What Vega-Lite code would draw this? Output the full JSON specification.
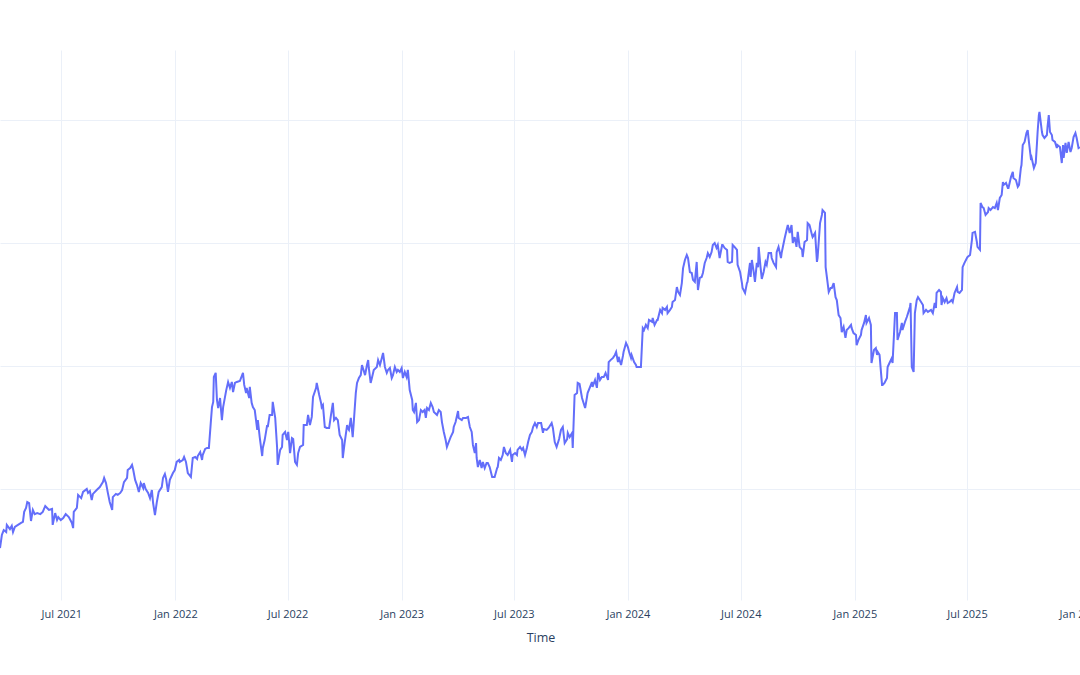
{
"$schema": "https://vega.github.io/schema/vega-lite/v6.json",
"width": 1081, "height": 550,
"autosize": {"type": "none"},
"padding": {"left": 0, "top": 50, "right": 0, "bottom": 75},
"background": "white",
"config": {"view": {"stroke": null}, "font": "Open Sans"},
"data": {"values": [
{"d":"2021-03-24","v":76.0},{"d":"2021-03-27","v":81.3},{"d":"2021-03-30","v":83.3},{"d":"2021-04-03","v":82.5},{"d":"2021-04-04","v":85.4},{"d":"2021-04-09","v":83.7},{"d":"2021-04-12","v":85.0},{"d":"2021-04-14","v":82.5},{"d":"2021-04-17","v":84.6},{"d":"2021-04-22","v":85.4},{"d":"2021-04-27","v":86.2},{"d":"2021-04-30","v":86.6},{"d":"2021-05-02","v":90.7},{"d":"2021-05-05","v":92.3},{"d":"2021-05-07","v":94.7},{"d":"2021-05-10","v":94.3},{"d":"2021-05-13","v":87.0},{"d":"2021-05-16","v":91.5},{"d":"2021-05-19","v":89.8},{"d":"2021-05-23","v":90.2},{"d":"2021-05-28","v":89.8},{"d":"2021-06-01","v":90.7},{"d":"2021-06-05","v":93.1},{"d":"2021-06-08","v":92.3},{"d":"2021-06-11","v":91.5},{"d":"2021-06-16","v":91.9},{"d":"2021-06-17","v":85.4},{"d":"2021-06-21","v":90.2},{"d":"2021-06-24","v":87.4},{"d":"2021-06-26","v":88.6},{"d":"2021-06-30","v":87.4},{"d":"2021-07-04","v":88.2},{"d":"2021-07-08","v":89.8},{"d":"2021-07-13","v":88.6},{"d":"2021-07-18","v":86.2},{"d":"2021-07-20","v":84.1},{"d":"2021-07-21","v":90.7},{"d":"2021-07-26","v":92.3},{"d":"2021-07-28","v":97.6},{"d":"2021-08-02","v":96.3},{"d":"2021-08-05","v":98.8},{"d":"2021-08-11","v":100.0},{"d":"2021-08-13","v":98.4},{"d":"2021-08-16","v":99.2},{"d":"2021-08-19","v":95.5},{"d":"2021-08-21","v":98.0},{"d":"2021-08-27","v":99.6},{"d":"2021-09-01","v":100.8},{"d":"2021-09-06","v":102.8},{"d":"2021-09-08","v":104.5},{"d":"2021-09-11","v":102.4},{"d":"2021-09-14","v":98.4},{"d":"2021-09-17","v":94.7},{"d":"2021-09-21","v":91.5},{"d":"2021-09-22","v":96.7},{"d":"2021-09-27","v":98.0},{"d":"2021-09-30","v":97.6},{"d":"2021-10-04","v":98.4},{"d":"2021-10-07","v":99.6},{"d":"2021-10-10","v":102.8},{"d":"2021-10-15","v":104.5},{"d":"2021-10-16","v":107.7},{"d":"2021-10-20","v":108.5},{"d":"2021-10-23","v":109.8},{"d":"2021-10-25","v":107.7},{"d":"2021-10-28","v":103.7},{"d":"2021-10-31","v":101.6},{"d":"2021-11-03","v":98.8},{"d":"2021-11-06","v":102.4},{"d":"2021-11-10","v":100.4},{"d":"2021-11-11","v":102.4},{"d":"2021-11-14","v":100.0},{"d":"2021-11-18","v":98.4},{"d":"2021-11-21","v":96.3},{"d":"2021-11-24","v":99.6},{"d":"2021-11-26","v":94.3},{"d":"2021-11-29","v":89.4},{"d":"2021-12-02","v":94.7},{"d":"2021-12-05","v":98.8},{"d":"2021-12-10","v":100.8},{"d":"2021-12-12","v":104.5},{"d":"2021-12-15","v":106.1},{"d":"2021-12-17","v":104.1},{"d":"2021-12-20","v":98.8},{"d":"2021-12-23","v":103.7},{"d":"2021-12-28","v":106.5},{"d":"2021-12-31","v":107.7},
{"d":"2022-01-03","v":111.0},{"d":"2022-01-07","v":111.8},{"d":"2022-01-08","v":111.0},{"d":"2022-01-13","v":111.8},{"d":"2022-01-15","v":113.0},{"d":"2022-01-18","v":111.0},{"d":"2022-01-21","v":106.5},{"d":"2022-01-26","v":104.9},{"d":"2022-01-29","v":112.6},{"d":"2022-02-02","v":113.0},{"d":"2022-02-05","v":112.2},{"d":"2022-02-06","v":113.4},{"d":"2022-02-10","v":115.0},{"d":"2022-02-13","v":111.8},{"d":"2022-02-14","v":113.8},{"d":"2022-02-18","v":116.3},{"d":"2022-02-21","v":116.7},{"d":"2022-02-24","v":116.7},{"d":"2022-02-27","v":126.8},{"d":"2022-03-01","v":133.3},{"d":"2022-03-03","v":135.4},{"d":"2022-03-04","v":145.5},{"d":"2022-03-07","v":147.2},{"d":"2022-03-09","v":136.2},{"d":"2022-03-11","v":132.9},{"d":"2022-03-14","v":137.0},{"d":"2022-03-17","v":128.0},{"d":"2022-03-19","v":133.3},{"d":"2022-03-24","v":140.2},{"d":"2022-03-27","v":143.5},{"d":"2022-03-30","v":141.1},{"d":"2022-04-02","v":143.5},{"d":"2022-04-04","v":139.4},{"d":"2022-04-07","v":143.1},{"d":"2022-04-10","v":143.5},{"d":"2022-04-15","v":143.9},{"d":"2022-04-20","v":147.2},{"d":"2022-04-22","v":142.3},{"d":"2022-04-25","v":139.0},{"d":"2022-04-26","v":141.1},{"d":"2022-04-30","v":137.0},{"d":"2022-05-01","v":141.5},{"d":"2022-05-04","v":135.0},{"d":"2022-05-06","v":133.3},{"d":"2022-05-09","v":132.1},{"d":"2022-05-13","v":124.0},{"d":"2022-05-14","v":128.0},{"d":"2022-05-17","v":121.1},{"d":"2022-05-21","v":113.4},{"d":"2022-05-22","v":116.7},{"d":"2022-05-25","v":119.9},{"d":"2022-05-29","v":126.0},{"d":"2022-05-30","v":125.2},{"d":"2022-06-02","v":130.1},{"d":"2022-06-06","v":130.1},{"d":"2022-06-07","v":135.4},{"d":"2022-06-11","v":128.9},{"d":"2022-06-14","v":117.1},{"d":"2022-06-15","v":109.8},{"d":"2022-06-19","v":115.9},{"d":"2022-06-22","v":117.1},{"d":"2022-06-23","v":122.0},{"d":"2022-06-27","v":123.2},{"d":"2022-06-30","v":119.9},{"d":"2022-07-02","v":123.2},{"d":"2022-07-05","v":114.6},{"d":"2022-07-08","v":120.7},{"d":"2022-07-10","v":120.3},{"d":"2022-07-13","v":111.0},{"d":"2022-07-16","v":109.8},{"d":"2022-07-18","v":114.6},{"d":"2022-07-21","v":117.1},{"d":"2022-07-26","v":117.9},{"d":"2022-07-27","v":126.0},{"d":"2022-08-01","v":126.0},{"d":"2022-08-03","v":130.1},{"d":"2022-08-06","v":126.0},{"d":"2022-08-09","v":129.3},{"d":"2022-08-11","v":137.4},{"d":"2022-08-16","v":141.1},{"d":"2022-08-17","v":143.1},{"d":"2022-08-21","v":138.2},{"d":"2022-08-24","v":135.0},{"d":"2022-08-25","v":133.3},{"d":"2022-08-27","v":134.1},{"d":"2022-08-30","v":125.2},{"d":"2022-09-02","v":124.8},{"d":"2022-09-06","v":124.8},{"d":"2022-09-09","v":130.1},{"d":"2022-09-12","v":135.0},{"d":"2022-09-14","v":128.0},{"d":"2022-09-17","v":128.9},{"d":"2022-09-20","v":128.0},{"d":"2022-09-23","v":122.0},{"d":"2022-09-27","v":119.9},{"d":"2022-09-28","v":112.6},{"d":"2022-10-01","v":118.7},{"d":"2022-10-05","v":126.0},{"d":"2022-10-06","v":124.8},{"d":"2022-10-08","v":124.0},{"d":"2022-10-11","v":128.9},{"d":"2022-10-14","v":121.1},{"d":"2022-10-16","v":128.0},{"d":"2022-10-19","v":139.0},{"d":"2022-10-21","v":143.1},{"d":"2022-10-24","v":145.1},{"d":"2022-10-27","v":146.3},{"d":"2022-10-29","v":150.4},{"d":"2022-10-30","v":149.6},{"d":"2022-11-03","v":146.3},{"d":"2022-11-06","v":150.4},{"d":"2022-11-08","v":152.4},{"d":"2022-11-09","v":149.2},{"d":"2022-11-12","v":143.1},{"d":"2022-11-14","v":145.1},{"d":"2022-11-17","v":148.4},{"d":"2022-11-22","v":149.6},{"d":"2022-11-24","v":152.4},{"d":"2022-11-27","v":150.4},{"d":"2022-11-30","v":153.3},{"d":"2022-12-02","v":155.3},{"d":"2022-12-05","v":149.6},{"d":"2022-12-08","v":147.2},{"d":"2022-12-10","v":148.4},{"d":"2022-12-13","v":149.2},{"d":"2022-12-16","v":145.1},{"d":"2022-12-18","v":146.3},{"d":"2022-12-21","v":149.6},{"d":"2022-12-24","v":147.6},{"d":"2022-12-26","v":148.4},{"d":"2022-12-29","v":147.6},
{"d":"2023-01-01","v":149.2},{"d":"2023-01-03","v":145.1},{"d":"2023-01-06","v":147.6},{"d":"2023-01-09","v":145.5},{"d":"2023-01-11","v":148.4},{"d":"2023-01-14","v":140.2},{"d":"2023-01-18","v":136.2},{"d":"2023-01-19","v":132.1},{"d":"2023-01-21","v":131.3},{"d":"2023-01-24","v":135.0},{"d":"2023-01-26","v":127.2},{"d":"2023-01-29","v":128.0},{"d":"2023-02-01","v":132.1},{"d":"2023-02-04","v":131.3},{"d":"2023-02-07","v":132.1},{"d":"2023-02-09","v":128.9},{"d":"2023-02-11","v":132.9},{"d":"2023-02-14","v":132.1},{"d":"2023-02-17","v":135.0},{"d":"2023-02-20","v":133.3},{"d":"2023-02-22","v":131.3},{"d":"2023-02-27","v":130.1},{"d":"2023-03-02","v":132.1},{"d":"2023-03-05","v":131.3},{"d":"2023-03-07","v":127.2},{"d":"2023-03-10","v":123.2},{"d":"2023-03-13","v":119.9},{"d":"2023-03-15","v":117.1},{"d":"2023-03-18","v":119.1},{"d":"2023-03-21","v":121.1},{"d":"2023-03-25","v":123.2},{"d":"2023-03-26","v":125.2},{"d":"2023-03-29","v":127.2},{"d":"2023-04-02","v":131.7},{"d":"2023-04-03","v":128.9},{"d":"2023-04-08","v":128.0},{"d":"2023-04-10","v":128.9},{"d":"2023-04-15","v":128.9},{"d":"2023-04-18","v":129.3},{"d":"2023-04-21","v":125.2},{"d":"2023-04-24","v":123.2},{"d":"2023-04-26","v":117.9},{"d":"2023-04-29","v":114.6},{"d":"2023-05-01","v":118.7},{"d":"2023-05-02","v":112.6},{"d":"2023-05-04","v":108.9},{"d":"2023-05-07","v":111.8},{"d":"2023-05-10","v":108.5},{"d":"2023-05-12","v":111.0},{"d":"2023-05-15","v":108.5},{"d":"2023-05-18","v":110.6},{"d":"2023-05-20","v":110.6},{"d":"2023-05-23","v":108.9},{"d":"2023-05-27","v":104.9},{"d":"2023-05-28","v":104.9},{"d":"2023-05-31","v":104.9},{"d":"2023-06-04","v":108.5},{"d":"2023-06-05","v":108.9},{"d":"2023-06-07","v":112.6},{"d":"2023-06-10","v":111.8},{"d":"2023-06-13","v":113.8},{"d":"2023-06-15","v":117.1},{"d":"2023-06-18","v":114.6},{"d":"2023-06-21","v":113.8},{"d":"2023-06-25","v":115.9},{"d":"2023-06-28","v":111.0},{"d":"2023-06-29","v":113.8},{"d":"2023-07-03","v":114.6},{"d":"2023-07-06","v":113.8},{"d":"2023-07-07","v":115.9},{"d":"2023-07-11","v":117.1},{"d":"2023-07-14","v":115.9},{"d":"2023-07-16","v":116.7},{"d":"2023-07-19","v":113.8},{"d":"2023-07-22","v":116.7},{"d":"2023-07-24","v":119.1},{"d":"2023-07-27","v":122.0},{"d":"2023-07-30","v":123.2},{"d":"2023-08-01","v":125.2},{"d":"2023-08-04","v":126.8},{"d":"2023-08-07","v":125.2},{"d":"2023-08-09","v":126.8},{"d":"2023-08-14","v":126.8},{"d":"2023-08-17","v":122.8},{"d":"2023-08-18","v":124.4},{"d":"2023-08-23","v":124.0},{"d":"2023-08-26","v":124.8},{"d":"2023-08-31","v":126.8},{"d":"2023-09-02","v":124.8},{"d":"2023-09-05","v":119.1},{"d":"2023-09-08","v":117.1},{"d":"2023-09-12","v":120.3},{"d":"2023-09-15","v":124.0},{"d":"2023-09-18","v":125.2},{"d":"2023-09-21","v":118.7},{"d":"2023-09-25","v":120.3},{"d":"2023-09-26","v":122.8},{"d":"2023-09-29","v":121.1},{"d":"2023-10-03","v":122.8},{"d":"2023-10-04","v":116.7},{"d":"2023-10-07","v":138.2},{"d":"2023-10-11","v":139.0},{"d":"2023-10-12","v":143.1},{"d":"2023-10-15","v":142.7},{"d":"2023-10-19","v":137.0},{"d":"2023-10-20","v":136.2},{"d":"2023-10-24","v":132.9},{"d":"2023-10-27","v":137.4},{"d":"2023-10-28","v":139.0},{"d":"2023-11-01","v":141.5},{"d":"2023-11-04","v":143.5},{"d":"2023-11-05","v":141.5},{"d":"2023-11-09","v":144.3},{"d":"2023-11-12","v":141.1},{"d":"2023-11-14","v":147.2},{"d":"2023-11-17","v":144.3},{"d":"2023-11-20","v":145.5},{"d":"2023-11-23","v":145.5},{"d":"2023-11-26","v":147.2},{"d":"2023-11-30","v":144.3},{"d":"2023-12-01","v":151.6},{"d":"2023-12-04","v":152.4},{"d":"2023-12-08","v":153.3},{"d":"2023-12-11","v":154.5},{"d":"2023-12-13","v":155.7},{"d":"2023-12-16","v":151.6},{"d":"2023-12-17","v":153.7},{"d":"2023-12-21","v":150.4},{"d":"2023-12-24","v":154.1},{"d":"2023-12-25","v":155.7},{"d":"2023-12-29","v":159.4},
{"d":"2024-01-01","v":157.7},{"d":"2024-01-03","v":155.7},{"d":"2024-01-06","v":153.3},{"d":"2024-01-07","v":154.5},{"d":"2024-01-11","v":151.6},{"d":"2024-01-14","v":150.4},{"d":"2024-01-15","v":149.6},{"d":"2024-01-19","v":149.6},{"d":"2024-01-22","v":149.6},{"d":"2024-01-25","v":165.4},{"d":"2024-01-27","v":164.6},{"d":"2024-01-30","v":166.7},{"d":"2024-02-02","v":165.4},{"d":"2024-02-04","v":168.7},{"d":"2024-02-09","v":167.9},{"d":"2024-02-10","v":169.5},{"d":"2024-02-13","v":166.7},{"d":"2024-02-17","v":168.7},{"d":"2024-02-18","v":168.7},{"d":"2024-02-22","v":172.8},{"d":"2024-02-25","v":171.5},{"d":"2024-02-26","v":173.6},{"d":"2024-03-01","v":172.8},{"d":"2024-03-04","v":174.0},{"d":"2024-03-05","v":171.5},{"d":"2024-03-09","v":172.8},{"d":"2024-03-12","v":174.0},{"d":"2024-03-13","v":176.0},{"d":"2024-03-17","v":176.8},{"d":"2024-03-20","v":182.1},{"d":"2024-03-22","v":180.1},{"d":"2024-03-25","v":178.9},{"d":"2024-03-28","v":183.7},{"d":"2024-03-30","v":189.8},{"d":"2024-04-02","v":193.1},{"d":"2024-04-05","v":195.1},{"d":"2024-04-07","v":193.9},{"d":"2024-04-10","v":188.2},{"d":"2024-04-13","v":187.8},{"d":"2024-04-15","v":185.0},{"d":"2024-04-18","v":184.2},{"d":"2024-04-21","v":192.3},{"d":"2024-04-23","v":180.9},{"d":"2024-04-26","v":185.8},{"d":"2024-04-29","v":186.2},{"d":"2024-05-01","v":187.8},{"d":"2024-05-04","v":191.9},{"d":"2024-05-07","v":193.9},{"d":"2024-05-09","v":195.9},{"d":"2024-05-12","v":194.3},{"d":"2024-05-15","v":196.3},{"d":"2024-05-17","v":199.2},{"d":"2024-05-20","v":200.0},{"d":"2024-05-23","v":198.0},{"d":"2024-05-25","v":199.2},{"d":"2024-05-28","v":193.9},{"d":"2024-06-01","v":199.2},{"d":"2024-06-02","v":199.2},{"d":"2024-06-05","v":198.0},{"d":"2024-06-09","v":197.2},{"d":"2024-06-10","v":192.3},{"d":"2024-06-13","v":191.9},{"d":"2024-06-17","v":192.3},{"d":"2024-06-18","v":199.2},{"d":"2024-06-21","v":198.4},{"d":"2024-06-25","v":197.2},{"d":"2024-06-26","v":191.1},{"d":"2024-06-30","v":188.2},{"d":"2024-07-03","v":183.7},{"d":"2024-07-04","v":181.7},{"d":"2024-07-08","v":179.7},{"d":"2024-07-11","v":183.7},{"d":"2024-07-12","v":184.2},{"d":"2024-07-16","v":191.9},{"d":"2024-07-17","v":186.2},{"d":"2024-07-19","v":193.1},{"d":"2024-07-22","v":188.2},{"d":"2024-07-24","v":184.2},{"d":"2024-07-27","v":191.9},{"d":"2024-07-29","v":190.2},{"d":"2024-07-30","v":198.4},{"d":"2024-08-02","v":190.2},{"d":"2024-08-04","v":185.4},{"d":"2024-08-07","v":188.2},{"d":"2024-08-10","v":192.3},{"d":"2024-08-12","v":191.1},{"d":"2024-08-15","v":195.9},{"d":"2024-08-19","v":195.9},{"d":"2024-08-20","v":193.9},{"d":"2024-08-23","v":191.9},{"d":"2024-08-27","v":190.2},{"d":"2024-08-28","v":196.3},{"d":"2024-08-31","v":198.4},{"d":"2024-09-04","v":193.9},{"d":"2024-09-05","v":195.9},{"d":"2024-09-07","v":198.4},{"d":"2024-09-10","v":202.0},{"d":"2024-09-13","v":205.3},{"d":"2024-09-15","v":207.3},{"d":"2024-09-18","v":204.1},{"d":"2024-09-21","v":207.3},{"d":"2024-09-23","v":200.0},{"d":"2024-09-26","v":202.4},{"d":"2024-09-29","v":198.4},{"d":"2024-10-01","v":204.5},{"d":"2024-10-04","v":198.4},{"d":"2024-10-08","v":197.2},{"d":"2024-10-09","v":194.3},{"d":"2024-10-12","v":200.4},{"d":"2024-10-16","v":201.2},{"d":"2024-10-17","v":208.1},{"d":"2024-10-20","v":207.3},{"d":"2024-10-24","v":203.3},{"d":"2024-10-25","v":202.4},{"d":"2024-10-29","v":204.1},{"d":"2024-11-01","v":192.3},{"d":"2024-11-02","v":193.9},{"d":"2024-11-06","v":208.1},{"d":"2024-11-09","v":211.4},{"d":"2024-11-10","v":213.4},{"d":"2024-11-14","v":212.2},{"d":"2024-11-15","v":190.2},{"d":"2024-11-17","v":186.2},{"d":"2024-11-20","v":180.1},{"d":"2024-11-23","v":181.7},{"d":"2024-11-25","v":181.7},{"d":"2024-11-28","v":183.7},{"d":"2024-12-01","v":178.0},{"d":"2024-12-03","v":176.8},{"d":"2024-12-06","v":170.7},{"d":"2024-12-09","v":169.5},{"d":"2024-12-11","v":163.8},{"d":"2024-12-14","v":165.9},{"d":"2024-12-17","v":161.4},{"d":"2024-12-19","v":164.6},{"d":"2024-12-22","v":165.4},{"d":"2024-12-26","v":166.7},{"d":"2024-12-27","v":165.4},{"d":"2024-12-30","v":163.4},
{"d":"2025-01-03","v":162.6},{"d":"2025-01-04","v":158.5},{"d":"2025-01-07","v":160.6},{"d":"2025-01-11","v":162.6},{"d":"2025-01-12","v":164.6},{"d":"2025-01-16","v":167.5},{"d":"2025-01-19","v":170.7},{"d":"2025-01-20","v":167.5},{"d":"2025-01-24","v":169.5},{"d":"2025-01-27","v":166.7},{"d":"2025-01-28","v":151.2},{"d":"2025-02-01","v":156.5},{"d":"2025-02-04","v":157.3},{"d":"2025-02-06","v":154.5},{"d":"2025-02-07","v":155.7},{"d":"2025-02-10","v":154.5},{"d":"2025-02-14","v":142.3},{"d":"2025-02-15","v":142.3},{"d":"2025-02-18","v":143.1},{"d":"2025-02-22","v":145.1},{"d":"2025-02-23","v":149.6},{"d":"2025-02-26","v":151.2},{"d":"2025-03-02","v":153.3},{"d":"2025-03-03","v":151.2},{"d":"2025-03-07","v":171.5},{"d":"2025-03-10","v":171.5},{"d":"2025-03-11","v":160.6},{"d":"2025-03-15","v":163.8},{"d":"2025-03-18","v":167.5},{"d":"2025-03-19","v":164.6},{"d":"2025-03-23","v":167.9},{"d":"2025-03-26","v":169.9},{"d":"2025-03-28","v":171.5},{"d":"2025-03-31","v":174.0},{"d":"2025-04-01","v":175.6},{"d":"2025-04-03","v":149.6},{"d":"2025-04-06","v":147.6},{"d":"2025-04-08","v":171.5},{"d":"2025-04-11","v":176.8},{"d":"2025-04-13","v":178.0},{"d":"2025-04-16","v":176.8},{"d":"2025-04-21","v":174.8},{"d":"2025-04-22","v":171.5},{"d":"2025-04-26","v":172.8},{"d":"2025-04-29","v":172.0},{"d":"2025-05-04","v":172.8},{"d":"2025-05-07","v":171.5},{"d":"2025-05-10","v":175.6},{"d":"2025-05-12","v":173.6},{"d":"2025-05-13","v":179.7},{"d":"2025-05-17","v":180.9},{"d":"2025-05-20","v":180.1},{"d":"2025-05-21","v":174.8},{"d":"2025-05-23","v":177.6},{"d":"2025-05-26","v":176.0},{"d":"2025-05-29","v":177.6},{"d":"2025-05-31","v":175.6},{"d":"2025-06-03","v":176.0},{"d":"2025-06-06","v":176.8},{"d":"2025-06-08","v":176.0},{"d":"2025-06-11","v":179.7},{"d":"2025-06-15","v":182.1},{"d":"2025-06-16","v":180.1},{"d":"2025-06-19","v":179.7},{"d":"2025-06-23","v":180.9},{"d":"2025-06-24","v":190.2},{"d":"2025-06-27","v":191.9},{"d":"2025-07-01","v":193.9},{"d":"2025-07-02","v":194.3},{"d":"2025-07-06","v":195.1},{"d":"2025-07-09","v":201.2},{"d":"2025-07-10","v":204.1},{"d":"2025-07-14","v":204.5},{"d":"2025-07-17","v":200.4},{"d":"2025-07-18","v":198.4},{"d":"2025-07-22","v":197.2},{"d":"2025-07-23","v":216.3},{"d":"2025-07-26","v":214.6},{"d":"2025-07-28","v":214.2},{"d":"2025-07-31","v":211.4},{"d":"2025-08-04","v":212.6},{"d":"2025-08-05","v":214.2},{"d":"2025-08-08","v":213.4},{"d":"2025-08-12","v":214.6},{"d":"2025-08-15","v":214.2},{"d":"2025-08-18","v":216.3},{"d":"2025-08-20","v":213.4},{"d":"2025-08-23","v":218.3},{"d":"2025-08-26","v":219.5},{"d":"2025-08-28","v":224.8},{"d":"2025-08-29","v":223.6},{"d":"2025-09-02","v":224.4},{"d":"2025-09-05","v":222.4},{"d":"2025-09-06","v":222.4},{"d":"2025-09-10","v":226.8},{"d":"2025-09-13","v":228.9},{"d":"2025-09-14","v":226.4},{"d":"2025-09-18","v":225.6},{"d":"2025-09-21","v":222.8},{"d":"2025-09-23","v":223.6},{"d":"2025-09-26","v":230.5},{"d":"2025-09-27","v":231.7},{"d":"2025-09-29","v":239.8},{"d":"2025-10-02","v":241.1},{"d":"2025-10-05","v":244.7},{"d":"2025-10-07","v":245.9},{"d":"2025-10-09","v":241.1},{"d":"2025-10-12","v":234.6},{"d":"2025-10-13","v":235.0},{"d":"2025-10-17","v":230.5},{"d":"2025-10-20","v":232.5},{"d":"2025-10-22","v":240.7},{"d":"2025-10-23","v":245.1},{"d":"2025-10-25","v":252.0},{"d":"2025-10-26","v":253.3},{"d":"2025-10-30","v":245.1},{"d":"2025-10-31","v":243.9},{"d":"2025-11-03","v":242.7},{"d":"2025-11-07","v":243.9},{"d":"2025-11-08","v":247.2},{"d":"2025-11-10","v":252.0},{"d":"2025-11-12","v":245.1},{"d":"2025-11-15","v":243.9},{"d":"2025-11-16","v":241.9},{"d":"2025-11-20","v":241.1},{"d":"2025-11-23","v":238.6},{"d":"2025-11-24","v":239.8},{"d":"2025-11-28","v":239.0},{"d":"2025-12-01","v":232.5},{"d":"2025-12-03","v":239.8},{"d":"2025-12-04","v":234.6},{"d":"2025-12-07","v":240.7},{"d":"2025-12-09","v":236.6},{"d":"2025-12-12","v":241.1},{"d":"2025-12-15","v":237.0},{"d":"2025-12-17","v":238.6},{"d":"2025-12-20","v":243.1},{"d":"2025-12-23","v":244.7},{"d":"2025-12-25","v":242.7},{"d":"2025-12-28","v":238.6},{"d":"2025-12-30","v":239.0}
]},
"mark": {"type": "line", "color": "#636EFA", "strokeWidth": 2, "clip": true, "interpolate": "linear"},
"encoding": {
  "x": {"field": "d", "type": "temporal", "title": "Time",
    "scale": {"type": "utc", "domain": [{"year": 2021, "month": 3, "date": 24, "utc": true}, {"year": 2026, "month": 1, "date": 1, "utc": true}]},
    "axis": {"values": [
      {"year": 2021, "month": 7, "date": 1, "utc": true},
      {"year": 2022, "month": 1, "date": 1, "utc": true},
      {"year": 2022, "month": 7, "date": 1, "utc": true},
      {"year": 2023, "month": 1, "date": 1, "utc": true},
      {"year": 2023, "month": 7, "date": 1, "utc": true},
      {"year": 2024, "month": 1, "date": 1, "utc": true},
      {"year": 2024, "month": 7, "date": 1, "utc": true},
      {"year": 2025, "month": 1, "date": 1, "utc": true},
      {"year": 2025, "month": 7, "date": 1, "utc": true},
      {"year": 2026, "month": 1, "date": 1, "utc": true}],
      "format": "%b %Y",
      "grid": true, "gridColor": "#EBF0F8", "gridWidth": 1,
      "domain": false, "ticks": false,
      "labelFont": "Open Sans", "labelFontSize": 11, "labelColor": "#2a3f5f", "labelPadding": 8,
      "labelFlush": false, "labelOverlap": false,
      "titleFont": "Open Sans", "titleFontSize": 12.5, "titleFontWeight": "normal", "titleColor": "#2a3f5f", "titlePadding": 12}},
  "y": {"field": "v", "type": "quantitative",
    "scale": {"domain": [54.88, 278.45], "nice": false, "zero": false},
    "axis": {"values": [100, 150, 200, 250], "labels": false, "ticks": false, "domain": false, "title": null,
      "grid": true, "gridColor": "#EBF0F8", "gridWidth": 1}}
}
}
